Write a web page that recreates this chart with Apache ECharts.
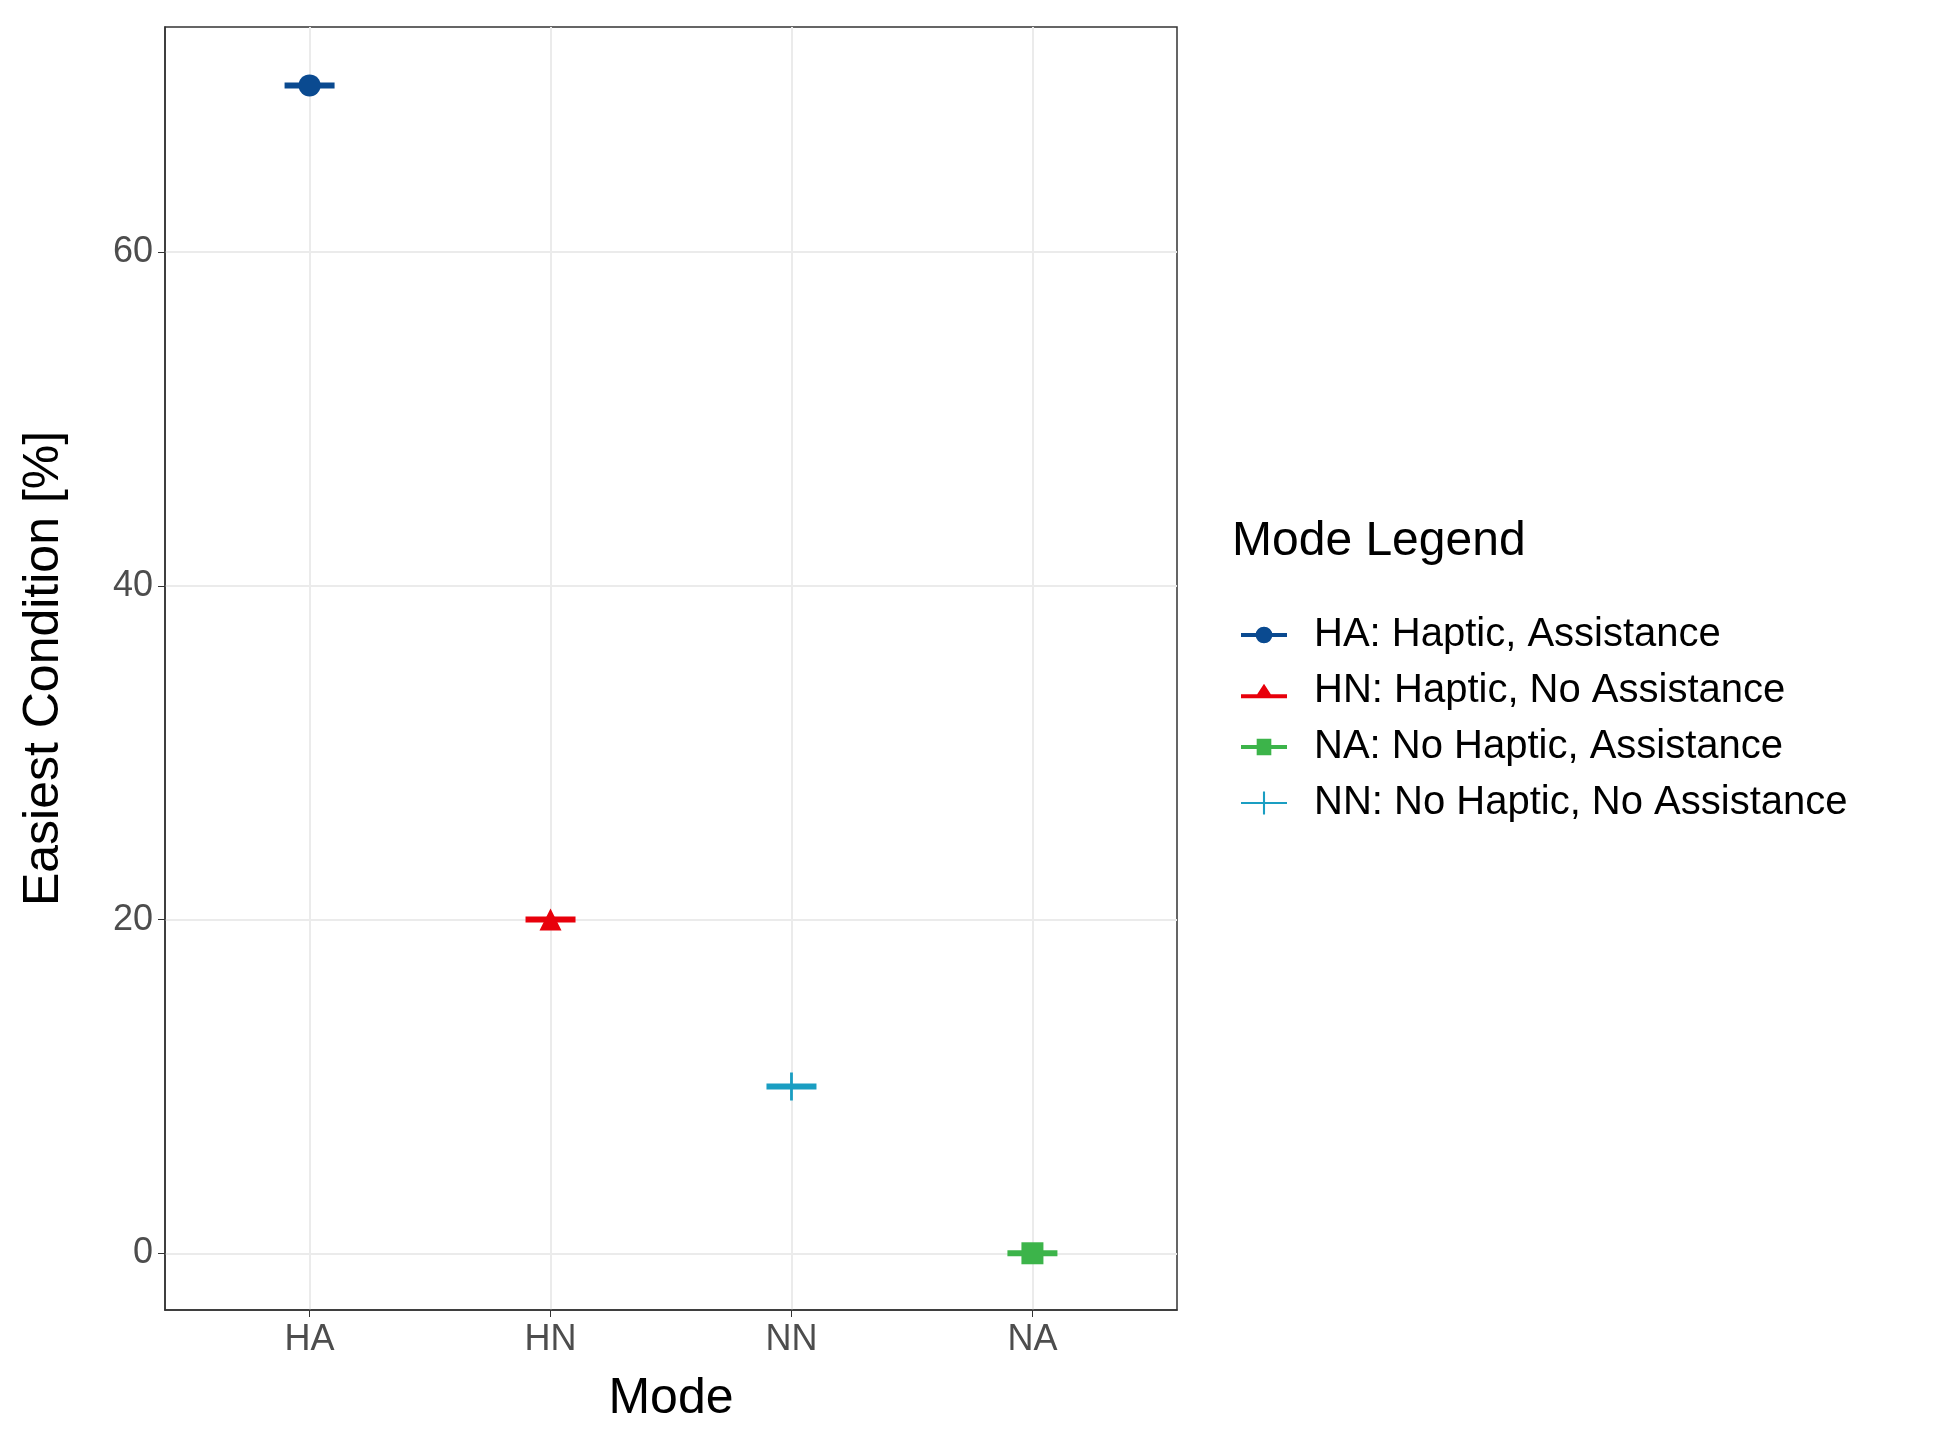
<!DOCTYPE html>
<html>
<head>
<meta charset="utf-8">
<script src="https://cdn.jsdelivr.net/npm/echarts@6/dist/echarts.min.js"></script>
<style>html,body{margin:0;background:#fff}#c{width:1942px;height:1451px}</style>
</head>
<body>
<div id="c"></div>
<script>
const modes = ['HA', 'HN', 'NN', 'NA']
const seriesNames = ['HA: Haptic, Assistance', 'HN: Haptic, No Assistance', 'NA: No Haptic, Assistance', 'NN: No Haptic, No Assistance']
const seriesModes = ['HA', 'HN', 'NA', 'NN']
const seriesValues = [70, 20, 0, 10]
const yTicks = [0, 20, 40, 60]
const colors = ['#0a4a90', '#e8000b', '#3cb44a', '#1a9ec2']
const symbols = ['circle', 'triangle', 'rect', 'path://M-1,-10 L1,-10 L1,-1 L10,-1 L10,1 L1,1 L1,10 L-1,10 L-1,1 L-10,1 L-10,-1 L-1,-1 Z']
const icons = [
  'path://M0,9 L44,9 L44,13 L0,13 Z M22,3 A8,8 0 1 1 21.99,3 Z',
  'path://M0,12 L44,12 L44,16 L0,16 Z M22,2 L31,16 L13,16 Z',
  'path://M0,9 L44,9 L44,13 L0,13 Z M15,3 L29,3 L29,19 L15,19 Z',
  'path://M0,10 L44,10 L44,12 L0,12 Z M21,0 L23,0 L23,22 L21,22 Z'
]

const font = 'Liberation Sans, Arial, sans-serif'
let series = []
seriesNames.forEach((name, i) => {
  const x = modes.indexOf(seriesModes[i])
  series.push({
    name: name, type: 'scatter', color: colors[i], itemStyle: { opacity: 1 },
    symbol: 'rect', symbolSize: [50, 6],
    data: [[x, seriesValues[i]]], animation: false, z: 3
  })
  series.push({
    name: name, type: 'scatter', color: colors[i], itemStyle: { opacity: 1 },
    symbol: symbols[i], symbolSize: i == 3 ? 28 : 22,
    data: [[x, seriesValues[i]]], animation: false, z: 4
  })
})

const chart = echarts.init(document.getElementById('c'))
chart.setOption({
  backgroundColor: '#fff',
  textStyle: { fontFamily: font },
  grid: { left: 165, right: 765, top: 27, bottom: 141, show: true, borderColor: '#333', borderWidth: 1.5, backgroundColor: 'transparent' },
  graphic: [{
    type: 'text', left: 1232, top: 518,
    style: { text: 'Mode Legend', font: '48px ' + font, fill: '#000' }
  }],
  legend: {
    orient: 'vertical', left: 1236, top: 610,
    itemWidth: 46, itemHeight: 24, itemGap: 16,
    data: seriesNames.map((n, i) => ({ name: n, icon: icons[i], itemStyle: { color: colors[i], opacity: 1 } })),
    textStyle: { fontSize: 40, color: '#000', padding: [0, 0, 0, 22] }
  },
  xAxis: {
    type: 'value', min: -0.6, max: 3.6, splitNumber: 4,
    name: 'Mode', nameLocation: 'middle', nameGap: 64,
    nameTextStyle: { fontSize: 50, color: '#000' },
    axisLine: { show: true, onZero: false, lineStyle: { color: '#333', width: 1.5 } },
    axisTick: { show: true, length: 7, customValues: [0, 1, 2, 3], lineStyle: { color: '#333' } },
    axisLabel: {
      fontSize: 36, color: '#4d4d4d', margin: 12, customValues: [0, 1, 2, 3],
      formatter: v => modes[Math.round(v)]
    },
    splitLine: { show: true, lineStyle: { color: '#ebebeb', width: 2 } }
  },
  yAxis: {
    type: 'value', min: -3.4, max: 73.5, splitNumber: 8,
    name: 'Easiest Condition [%]', nameLocation: 'middle', nameGap: 96,
    nameTextStyle: { fontSize: 50, color: '#000' },
    axisLine: { show: true, onZero: false, lineStyle: { color: '#333', width: 1.5 } },
    axisTick: { show: true, length: 7, customValues: yTicks, lineStyle: { color: '#333' } },
    axisLabel: {
      fontSize: 36, color: '#4d4d4d', margin: 12, customValues: yTicks,
      formatter: v => String(Math.round(v))
    },
    splitLine: { show: true, lineStyle: { color: '#ebebeb', width: 2 } }
  },
  series: series
})
</script>
</body>
</html>
